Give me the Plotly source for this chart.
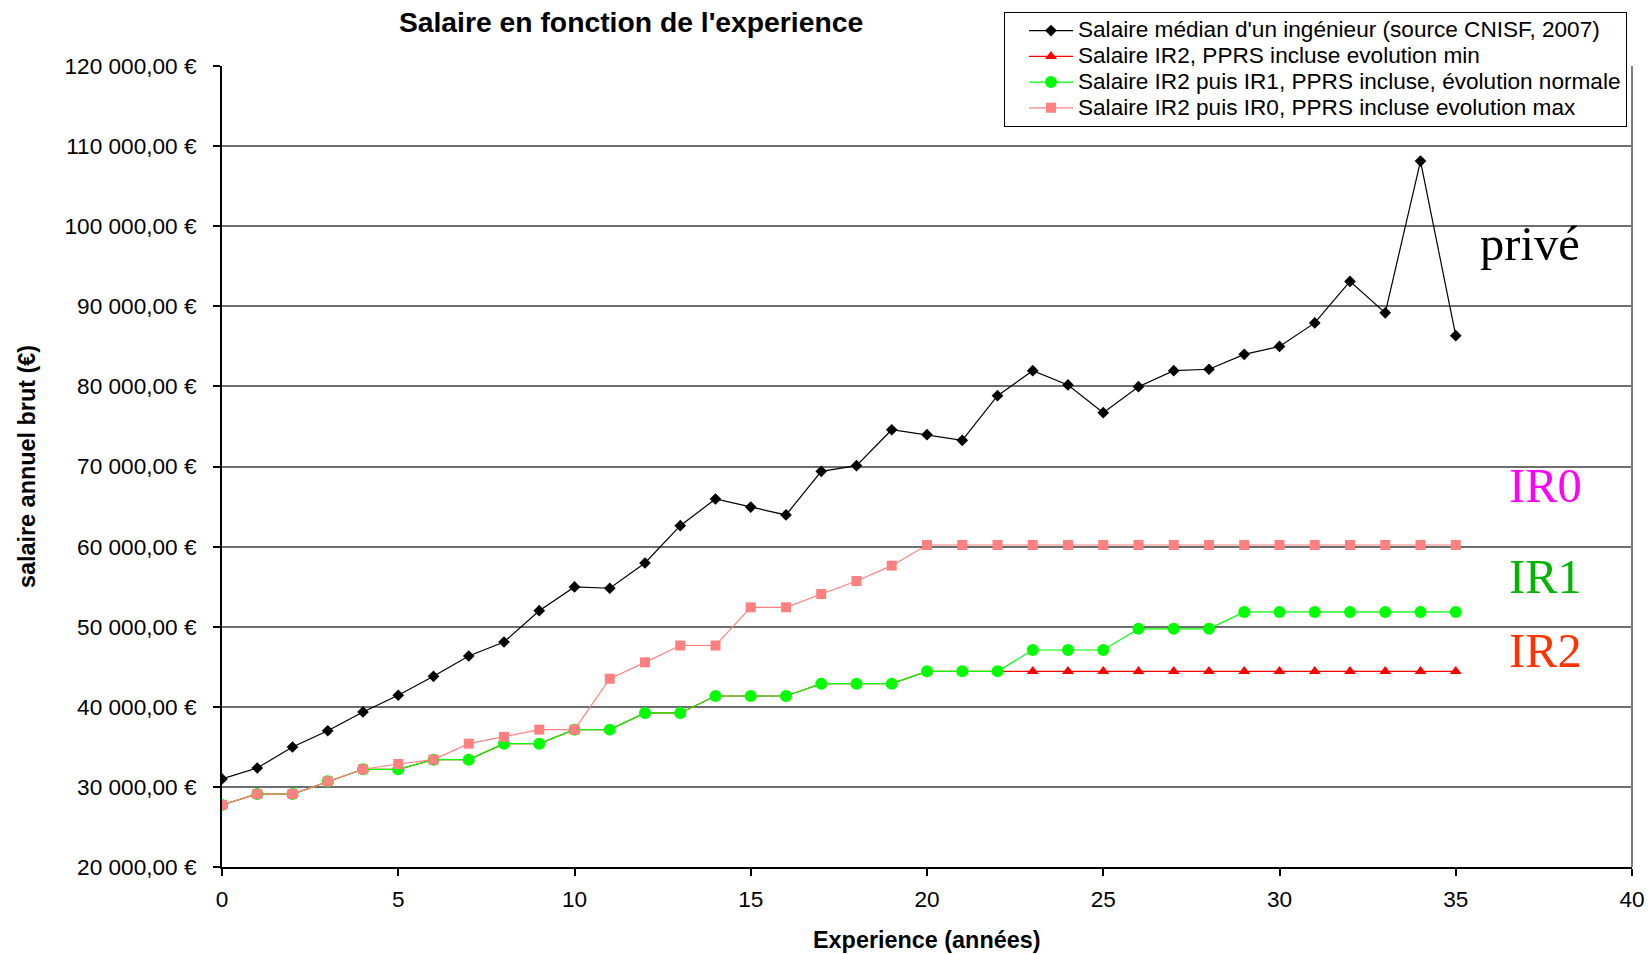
import plotly.graph_objects as go

# Années d'expérience
experience = list(range(0, 36))

# Salaire médian d'un ingénieur (CNISF 2007)
salaire_median = [31000, 32360, 34980, 37010, 39350, 41440, 43810, 46340, 48090, 52000,
                  54960, 54800, 57950, 62610, 65940, 64940, 63950, 69400, 70100, 74590,
                  73970, 73270, 78840, 81960, 80180, 76720, 79960, 81960, 82140, 84000,
                  84990, 87930, 93110, 89180, 108130, 86330]

# IR2, évolution min
salaire_ir2 = [27740, 29110, 29110, 30700, 32200, 32200, 33400, 33400, 35400, 35400,
               37150, 37150, 39230, 39230, 41350, 41350, 41350, 42890, 42890, 42890,
               44430, 44430, 44430, 44430, 44430, 44430, 44430, 44430, 44430, 44430,
               44430, 44430, 44430, 44430, 44430, 44430]

# IR2 puis IR1, évolution normale
salaire_ir1 = [27740, 29110, 29110, 30700, 32200, 32200, 33400, 33400, 35400, 35400,
               37150, 37150, 39230, 39230, 41350, 41350, 41350, 42890, 42890, 42890,
               44430, 44430, 44430, 47090, 47090, 47090, 49740, 49740, 49740, 51840,
               51840, 51840, 51840, 51840, 51840, 51840]

# IR2 puis IR0, évolution max
salaire_ir0 = [27740, 29110, 29110, 30700, 32200, 32860, 33400, 35400, 36250, 37150,
               37150, 43500, 45550, 47650, 47650, 52420, 52420, 54080, 55700, 57620,
               60200, 60200, 60200, 60200, 60200, 60200, 60200, 60200, 60200, 60200,
               60200, 60200, 60200, 60200, 60200, 60200]

noms_series = [
    "Salaire médian d'un ingénieur (source CNISF, 2007)",
    "Salaire IR2, PPRS incluse evolution min",
    "Salaire IR2 puis IR1, PPRS incluse, évolution normale",
    "Salaire IR2 puis IR0, PPRS incluse evolution max",
]

y_ticks = [20000, 30000, 40000, 50000, 60000, 70000, 80000, 90000, 100000, 110000, 120000]
y_tick_labels = ["20 000,00 €", "30 000,00 €", "40 000,00 €", "50 000,00 €", "60 000,00 €",
                 "70 000,00 €", "80 000,00 €", "90 000,00 €", "100 000,00 €", "110 000,00 €",
                 "120 000,00 €"]
x_ticks = [0, 5, 10, 15, 20, 25, 30, 35, 40]

# Étiquettes placées dans le graphique
etiquettes = ["privé", "IR0", "IR1", "IR2"]
etiquettes_x = [37.1, 37.56, 37.56, 37.56]
etiquettes_y = [97800, 67570, 56330, 46970]
etiquettes_couleurs = ["#000000", "#FF00FF", "#00B400", "#FF3300"]

SANS = "Liberation Sans, Arial, sans-serif"
SERIF = "Liberation Serif, Times New Roman, serif"


def libelle(nom):
    # texte de légende un peu plus grand que l'interligne de la légende
    return '<span style="font-size:22.6px">' + nom + "</span>"


fig = go.Figure()

fig.add_trace(go.Scatter(
    x=experience, y=salaire_median, name=libelle(noms_series[0]), mode="lines+markers",
    line=dict(color="#000000", width=1.2),
    marker=dict(symbol="diamond", size=9, color="#000000"),
))
fig.add_trace(go.Scatter(
    x=experience, y=salaire_ir2, name=libelle(noms_series[1]), mode="lines+markers",
    line=dict(color="#FF0000", width=1.2),
    marker=dict(symbol="triangle-up", size=10.5, color="#FF0000"),
))
fig.add_trace(go.Scatter(
    x=experience, y=salaire_ir1, name=libelle(noms_series[2]), mode="lines+markers",
    line=dict(color="#00FF00", width=1.2),
    marker=dict(symbol="circle", size=12, color="#00FF00"),
))
fig.add_trace(go.Scatter(
    x=experience, y=salaire_ir0, name=libelle(noms_series[3]), mode="lines+markers",
    line=dict(color="#FF8080", width=1.2),
    marker=dict(symbol="square", size=10, color="#FF8080"),
))

for txt, ex, ey, col in zip(etiquettes, etiquettes_x, etiquettes_y, etiquettes_couleurs):
    fig.add_annotation(x=ex, y=ey, xref="x", yref="y", text=txt, showarrow=False,
                       font=dict(family=SERIF, size=48.5, color=col),
                       xanchor="center", yanchor="middle")

# Titres des axes
fig.add_annotation(x=0.5, y=-0.0911, xref="paper", yref="paper",
                   text="<b>Experience (années)</b>", showarrow=False,
                   font=dict(family=SANS, size=23.4, color="#000000"),
                   xanchor="center", yanchor="middle")
fig.add_annotation(x=-0.1383, y=0.5006, xref="paper", yref="paper",
                   text="<b>salaire annuel brut (€)</b>", showarrow=False, textangle=-90,
                   font=dict(family=SANS, size=23.4, color="#000000"),
                   xanchor="center", yanchor="middle")

# Bord droit de la zone de tracé
fig.add_shape(type="line", xref="x domain", yref="y domain", x0=1, x1=1, y0=0, y1=1,
              line=dict(color="#808080", width=2))

fig.update_layout(
    width=1652, height=954, autosize=False,
    margin=dict(l=222, r=20, t=66, b=87, autoexpand=False),
    paper_bgcolor="#FFFFFF", plot_bgcolor="#FFFFFF",
    title=dict(text="<b>Salaire en fonction de l'experience</b>", x=0.382, y=0.977,
               xanchor="center", yanchor="middle", xref="container", yref="container",
               font=dict(family=SANS, size=28.3, color="#000000")),
    font=dict(family=SANS, color="#000000"),
    showlegend=True,
    legend=dict(x=0.5546, y=1.0678, xanchor="left", yanchor="top",
                bgcolor="#FFFFFF", bordercolor="#000000", borderwidth=1,
                font=dict(family=SANS, size=17.5, color="#000000"),
                itemwidth=44, indentation=19, tracegroupgap=0),
    xaxis=dict(range=[0, 40], tickvals=x_ticks, ticks="outside", ticklen=7,
               tickcolor="#000000", tickwidth=1.5, showline=True, linecolor="#000000",
               linewidth=2, showgrid=False, zeroline=False,
               tickfont=dict(family=SANS, size=22.6, color="#000000"),
               ticklabelstandoff=4),
    yaxis=dict(range=[20000, 120000], tickvals=y_ticks, ticktext=y_tick_labels,
               ticks="outside", ticklen=7, tickcolor="#000000", tickwidth=1.5,
               showline=True, linecolor="#000000", linewidth=2,
               showgrid=True, gridcolor="#6E6E6E", gridwidth=1.5, zeroline=False,
               tickfont=dict(family=SANS, size=22.6, color="#000000"),
               ticklabelstandoff=12),
)

fig.write_html("out.html")
